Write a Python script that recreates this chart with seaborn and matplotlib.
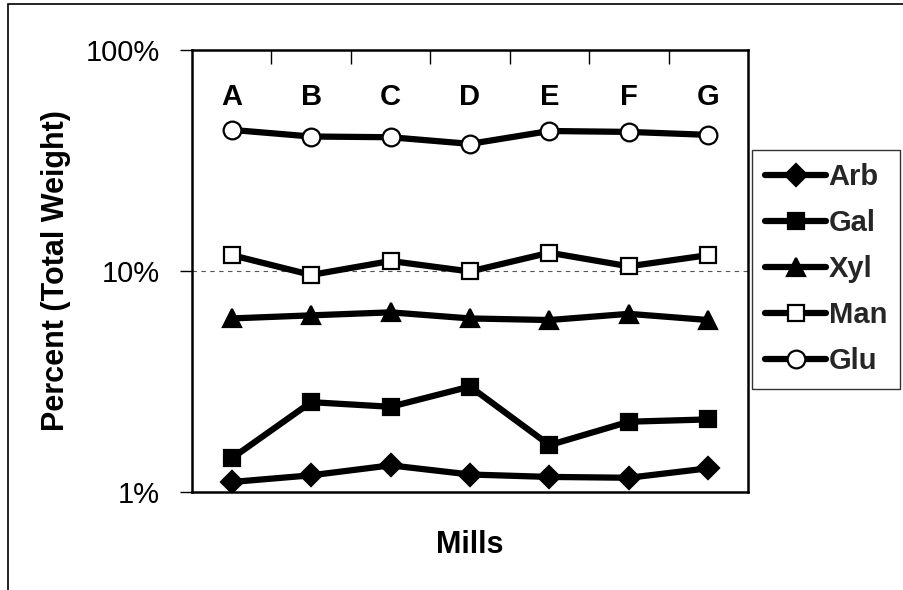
import matplotlib
matplotlib.use("Agg")
import matplotlib.pyplot as plt
import matplotlib.transforms as mtransforms
from matplotlib.patches import Rectangle
from matplotlib.ticker import FixedLocator, NullLocator
import seaborn as sns
import pandas as pd

mills = ["A", "B", "C", "D", "E", "F", "G"]
arb = [1.11, 1.19, 1.32, 1.20, 1.17, 1.16, 1.28]
gal = [1.42, 2.55, 2.43, 3.00, 1.63, 2.08, 2.13]
xyl = [6.1, 6.3, 6.5, 6.1, 6.0, 6.4, 6.0]
man = [11.8, 9.6, 11.1, 9.95, 12.1, 10.5, 11.8]
glu = [43.5, 40.6, 40.3, 37.6, 43.0, 42.6, 41.3]
series_names = ["Arb", "Gal", "Xyl", "Man", "Glu"]
y_ticks = [1, 10, 100]
y_tick_labels = ["1%", "10%", "100%"]

sns.set_theme(style="white")
plt.rcParams["font.family"] = ["Liberation Sans", "DejaVu Sans"]

fig = plt.figure(figsize=(9.04, 5.9), dpi=100)
ax = fig.add_axes([192 / 904, 1 - 492 / 590, 556 / 904, 442 / 590])

pos = list(range(len(mills)))
styles = {
    "Arb": dict(marker="D", ms=13, mfc="black"),
    "Gal": dict(marker="s", ms=14, mfc="black"),
    "Xyl": dict(marker="^", ms=15, mfc="black"),
    "Man": dict(marker="s", ms=14, mfc="white"),
    "Glu": dict(marker="o", ms=15, mfc="white"),
}
data = {"Arb": arb, "Gal": gal, "Xyl": xyl, "Man": man, "Glu": glu}
for name in series_names:
    df = pd.DataFrame({"x": pos, "y": data[name]})
    st = styles[name]
    sns.lineplot(data=df, x="x", y="y", ax=ax, color="black", lw=4.5,
                 marker=st["marker"], markersize=st["ms"],
                 markerfacecolor=st["mfc"], markeredgecolor="black",
                 markeredgewidth=1.6, label=name, legend=False)

ax.set_yscale("log")
ax.set_ylim(1, 100)
ax.set_xlim(-0.5, len(mills) - 0.5)
ax.yaxis.set_major_locator(FixedLocator(y_ticks))
ax.yaxis.set_minor_locator(NullLocator())
ax.set_yticklabels(y_tick_labels)
ax.tick_params(axis="y", left=True, direction="out", length=9, width=1,
               labelsize=21, pad=14, colors="black")
ax.xaxis.set_major_locator(FixedLocator([i + 0.5 for i in pos[:-1]]))
ax.xaxis.set_minor_locator(NullLocator())
ax.tick_params(axis="x", bottom=False, top=True, direction="in", length=10,
               width=1, labelbottom=False, labeltop=False, colors="black")

ax.axhline(10, color="#555555", lw=0.8, ls=(0, (4, 4)), zorder=0)

for s in ax.spines.values():
    s.set_color("black")
    s.set_linewidth(1.8)

trans = mtransforms.blended_transform_factory(ax.transData, ax.transAxes)
for i, m in enumerate(mills):
    ax.text(i, 0.894, m, transform=trans, ha="center", va="center",
            fontsize=21, fontweight="bold", color="black")

ax.set_xlabel("Mills", fontsize=22, fontweight="bold", color="black")
ax.xaxis.label.set_va("center")
ax.xaxis.set_label_coords(0.5, -0.12)
ax.set_ylabel("Percent (Total Weight)", fontsize=22, fontweight="bold", color="black")
ax.yaxis.label.set_va("center")
ax.yaxis.set_label_coords(-0.245, 0.5)

handles, labels = ax.get_legend_handles_labels()
for h in handles:
    h.set_markersize(h.get_markersize() * 0.85)
leg = fig.legend(handles, labels, loc="upper left",
                 bbox_to_anchor=(752 / 904, 1 - 150 / 590),
                 bbox_transform=fig.transFigure, borderaxespad=0,
                 prop={"weight": "bold", "size": 21},
                 frameon=True, fancybox=False, edgecolor="black",
                 handlelength=2.1, handletextpad=0.08, labelspacing=0.62,
                 borderpad=0.45)
leg.get_frame().set_linewidth(1.0)

fig.patches.append(Rectangle((8 / 904, -0.02), 1.0, 1 - 4 / 590 + 0.02,
                             transform=fig.transFigure, fill=False,
                             edgecolor="black", lw=1.2))

fig.savefig("out.png", dpi=100)
